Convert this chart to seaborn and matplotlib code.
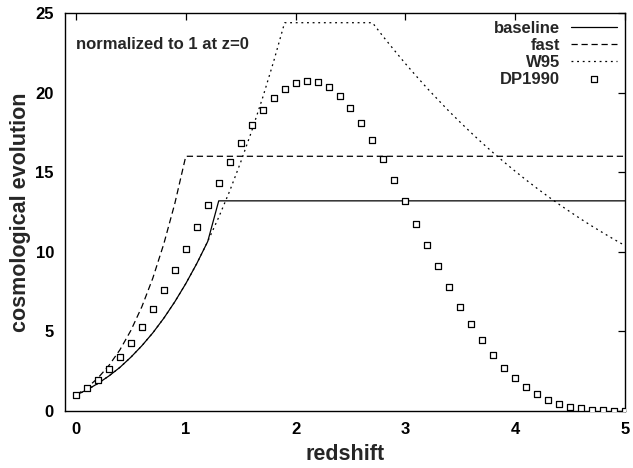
import matplotlib
matplotlib.use("Agg")
import matplotlib.pyplot as plt
import seaborn as sns
import numpy as np
import pandas as pd

# --- data -------------------------------------------------------------
# baseline evolution model
z_baseline = [0.0, 0.1, 0.2, 0.3, 0.4, 0.5, 0.6, 0.7, 0.8, 0.9, 1.0, 1.1, 1.2, 1.3, 5.0]
f_baseline = [1.00, 1.33, 1.73, 2.20, 2.74, 3.38, 4.10, 4.91, 5.83, 6.86, 8.00, 9.26, 10.65, 13.2, 13.2]

# fast evolution model
z_fast = [0.0, 0.1, 0.2, 0.3, 0.4, 0.5, 0.6, 0.7, 0.8, 0.9, 1.0, 5.0]
f_fast = [1.00, 1.46, 2.07, 2.86, 3.84, 5.06, 6.55, 8.35, 10.50, 13.03, 16.0, 16.0]

# W95 evolution model
z_w95 = [0.0, 0.1, 0.2, 0.3, 0.4, 0.5, 0.6, 0.7, 0.8, 0.9, 1.0, 1.1, 1.2, 1.3, 1.4,
         1.5, 1.6, 1.7, 1.8, 1.9, 2.7, 2.8, 2.9, 3.0, 3.1, 3.2, 3.3, 3.4, 3.5, 3.6,
         3.7, 3.8, 3.9, 4.0, 4.1, 4.2, 4.3, 4.4, 4.5, 4.6, 4.7, 4.8, 4.9, 5.0]
f_w95 = [1.00, 1.33, 1.73, 2.20, 2.74, 3.38, 4.10, 4.91, 5.83, 6.86, 8.00, 9.26, 10.65,
         12.17, 13.82, 15.63, 17.58, 19.68, 21.95, 24.39, 24.39, 23.50, 22.65, 21.82,
         21.03, 20.26, 19.53, 18.81, 18.13, 17.47, 16.83, 16.22, 15.63, 15.06, 14.51,
         13.98, 13.47, 12.98, 12.51, 12.05, 11.61, 11.19, 10.78, 10.39]

# DP1990 points
z_dp = [0.0, 0.1, 0.2, 0.3, 0.4, 0.5, 0.6, 0.7, 0.8, 0.9, 1.0, 1.1, 1.2, 1.3, 1.4,
        1.5, 1.6, 1.7, 1.8, 1.9, 2.0, 2.1, 2.2, 2.3, 2.4, 2.5, 2.6, 2.7, 2.8, 2.9,
        3.0, 3.1, 3.2, 3.3, 3.4, 3.5, 3.6, 3.7, 3.8, 3.9, 4.0, 4.1, 4.2, 4.3, 4.4,
        4.5, 4.6, 4.7, 4.8, 4.9, 5.0]
f_dp = [1.00, 1.43, 1.97, 2.62, 3.42, 4.30, 5.30, 6.39, 7.61, 8.87, 10.19, 11.58,
        12.96, 14.32, 15.64, 16.84, 17.94, 18.91, 19.67, 20.25, 20.61, 20.75, 20.67,
        20.33, 19.77, 19.01, 18.07, 17.02, 15.81, 14.51, 13.16, 11.77, 10.40, 9.08,
        7.76, 6.56, 5.45, 4.45, 3.52, 2.72, 2.05, 1.53, 1.05, 0.69, 0.46, 0.27, 0.17,
        0.08, 0.04, 0.02, 0.01]

x_ticks = [0, 1, 2, 3, 4, 5]
y_ticks = [0, 5, 10, 15, 20, 25]

# --- style ------------------------------------------------------------
sns.set_style("white")
plt.rcParams["font.family"] = ["Liberation Sans", "DejaVu Sans"]
plt.rcParams["font.weight"] = "bold"
plt.rcParams["axes.labelweight"] = "bold"

fig = plt.figure(figsize=(6.33, 4.68), dpi=100)
ax = fig.add_axes([65 / 633, 57 / 468, 560 / 633, 398 / 468])

sns.lineplot(x=z_baseline, y=f_baseline, ax=ax, color="black", lw=0.9,
             errorbar=None, label="baseline")
sns.lineplot(x=z_fast, y=f_fast, ax=ax, color="black", lw=0.9,
             linestyle=(0, (5, 3)), errorbar=None, label="fast")
sns.lineplot(x=z_w95, y=f_w95, ax=ax, color="black", lw=0.9,
             linestyle=(0, (1.5, 3)), errorbar=None, label="W95")
sns.scatterplot(x=z_dp, y=f_dp, ax=ax, marker="s", s=20, facecolor="white",
                edgecolor="black", linewidth=0.9, label="DP1990", zorder=3)

ax.set_xlim(-0.1, 5.0)
ax.set_ylim(0, 25)
ax.set_xticks(x_ticks)
ax.set_yticks(y_ticks)
ax.tick_params(direction="in", length=5, width=0.9, top=True, right=True,
               labelsize=12, pad=8, colors="black")
for lab in ax.get_xticklabels() + ax.get_yticklabels():
    lab.set_fontweight("bold")
for sp in ax.spines.values():
    sp.set_visible(True)
    sp.set_color("black")
    sp.set_linewidth(1.0)

ax.set_xlabel("redshift", fontsize=15.5, fontweight="bold", labelpad=5)
ax.set_ylabel("cosmological evolution", fontsize=15.5, fontweight="bold", labelpad=3)

ax.text(0.0, 23.0, "normalized to 1 at z=0", fontsize=12, fontweight="bold",
        ha="left", va="center")

leg = ax.legend(loc="upper right", frameon=False, markerfirst=False,
                fontsize=12, handlelength=2.75, labelspacing=0.11,
                borderaxespad=0.2, borderpad=0.3, handletextpad=0.65)
for t in leg.get_texts():
    t.set_fontweight("bold")
    t.set_ha("right")

fig.savefig("out.png", dpi=100)
